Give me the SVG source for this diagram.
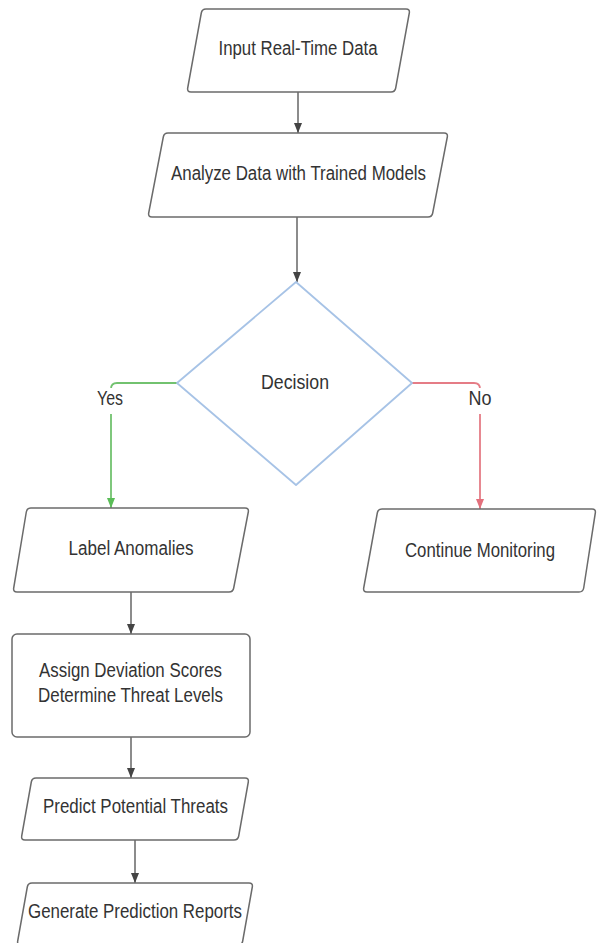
<svg xmlns="http://www.w3.org/2000/svg" width="597" height="943" viewBox="0 0 597 943">
<style>
.node{fill:#ffffff;stroke:#6b6b6b;stroke-width:1.5;stroke-linejoin:round}
.dec{fill:#ffffff;stroke:#a7c3e6;stroke-width:1.8;stroke-linejoin:round}
.t{font-family:"Liberation Sans",Arial,sans-serif;font-size:20px;fill:#333333;text-anchor:middle}
.c{fill:none;stroke:#666666;stroke-width:1.5}
.cg{fill:none;stroke:#72c26f;stroke-width:1.8}
.cr{fill:none;stroke:#e57c86;stroke-width:1.8}
</style>
<defs>
<marker id="ag" markerUnits="userSpaceOnUse" markerWidth="10" markerHeight="8" refX="10" refY="4" orient="auto"><path d="M0,0 L10,4 L0,8 Z" fill="#444444"/></marker>
<marker id="agr" markerUnits="userSpaceOnUse" markerWidth="10" markerHeight="8" refX="10" refY="4" orient="auto"><path d="M0,0 L10,4 L0,8 Z" fill="#5bbd58"/></marker>
<marker id="ar" markerUnits="userSpaceOnUse" markerWidth="10" markerHeight="8" refX="10" refY="4" orient="auto"><path d="M0,0 L10,4 L0,8 Z" fill="#e3707c"/></marker>
</defs>
<rect x="0" y="0" width="597" height="943" fill="#ffffff"/>
<g id="connectors">
<path class="c" d="M298,92 L298,133" marker-end="url(#ag)"/>
<path class="c" d="M297,217 L297,282" marker-end="url(#ag)"/>
<path class="cg" d="M177,383 L117,383 Q111,383 111,389 L111,508" marker-end="url(#agr)"/>
<path class="cr" d="M412,383 L474,383 Q480,383 480,389 L480,509" marker-end="url(#ar)"/>
<path class="c" d="M131,592 L131,634" marker-end="url(#ag)"/>
<path class="c" d="M131,737 L131,778" marker-end="url(#ag)"/>
<path class="c" d="M135,840 L135,883" marker-end="url(#ag)"/>
<rect x="94" y="388" width="34" height="26" fill="#ffffff"/>
<rect x="466" y="388" width="28" height="26" fill="#ffffff"/>
<text class="t" x="110" y="405" textLength="26" lengthAdjust="spacingAndGlyphs">Yes</text>
<text class="t" x="480" y="405" textLength="23" lengthAdjust="spacingAndGlyphs">No</text>
</g>
<g id="n1">
<path class="node" d="M206,9 L406,9 Q410,9 409.3,13 L395.7,88 Q395,92 391,92 L191,92 Q187,92 187.7,88 L201.3,13 Q202,9 206,9 Z"/>
<text class="t" x="298" y="55" textLength="159" lengthAdjust="spacingAndGlyphs">Input Real-Time Data</text>
</g>
<g id="n2">
<path class="node" d="M168,133 L444,133 Q448,133 447.3,137 L432.7,213 Q432,217 428,217 L152,217 Q148,217 148.7,213 L163.3,137 Q164,133 168,133 Z"/>
<text class="t" x="298.5" y="180" textLength="255" lengthAdjust="spacingAndGlyphs">Analyze Data with Trained Models</text>
</g>
<g id="decision">
<path class="dec" d="M296,282 L412,383 L296,485 L177,383 Z"/>
<text class="t" x="295" y="389" textLength="68" lengthAdjust="spacingAndGlyphs">Decision</text>
</g>
<g id="n3">
<path class="node" d="M31,508 L245,508 Q249,508 248.3,512 L233.7,588 Q233,592 229,592 L17,592 Q13,592 13.7,588 L26.3,512 Q27,508 31,508 Z"/>
<text class="t" x="131" y="555" textLength="125" lengthAdjust="spacingAndGlyphs">Label Anomalies</text>
</g>
<g id="n4">
<path class="node" d="M382,509 L592,509 Q596,509 595.3,513 L583.7,588 Q583,592 579,592 L367,592 Q363,592 363.7,588 L377.3,513 Q378,509 382,509 Z"/>
<text class="t" x="480" y="557" textLength="150" lengthAdjust="spacingAndGlyphs">Continue Monitoring</text>
</g>
<g id="n5">
<rect class="node" x="12" y="634" width="238" height="103" rx="5" ry="5"/>
<text class="t" x="130.5" y="677" textLength="183" lengthAdjust="spacingAndGlyphs">Assign Deviation Scores</text>
<text class="t" x="130.5" y="702" textLength="185" lengthAdjust="spacingAndGlyphs">Determine Threat Levels</text>
</g>
<g id="n6">
<path class="node" d="M36,778 L245,778 Q249,778 248.3,782 L238.7,836 Q238,840 234,840 L25,840 Q21,840 21.7,836 L31.3,782 Q32,778 36,778 Z"/>
<text class="t" x="135.5" y="813" textLength="185" lengthAdjust="spacingAndGlyphs">Predict Potential Threats</text>
</g>
<g id="n7">
<path class="node" d="M32,883 L249,883 Q253,883 252.3,887 L242.7,941 Q242,945 238,945 L21,945 Q17,945 17.7,941 L27.3,887 Q28,883 32,883 Z"/>
<text class="t" x="135" y="918" textLength="214" lengthAdjust="spacingAndGlyphs">Generate Prediction Reports</text>
</g>
</svg>
